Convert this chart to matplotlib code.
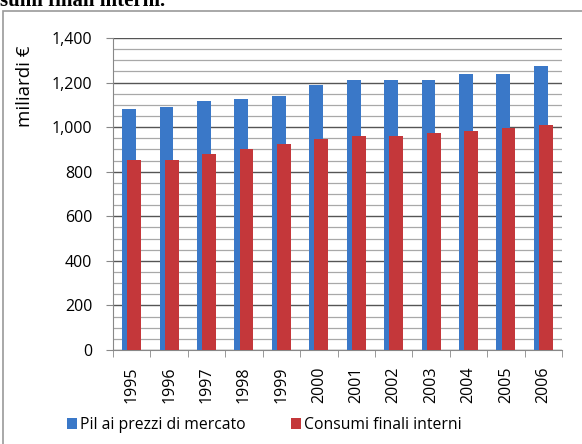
import matplotlib.pyplot as plt
import matplotlib.patches as mpatches
import numpy as np

years = ['1995', '1996', '1997', '1998', '1999', '2000',
         '2001', '2002', '2003', '2004', '2005', '2006']
pil = [1081, 1090, 1117, 1127, 1139, 1189, 1211, 1211, 1211, 1238, 1238, 1274]
consumi = [852, 852, 878, 902, 924, 949, 960, 960, 972, 984, 997, 1009]

plt.rcParams['font.family'] = ['Open Sans', 'DejaVu Sans']

fig = plt.figure(figsize=(5.82, 4.44), dpi=100)
ax = fig.add_axes([113 / 582, (444 - 350) / 444, 449 / 582, 312 / 444])

x = np.arange(len(years))
w = 0.37
b1 = ax.bar(x - 0.07, pil, width=w, color='#3A78C8', zorder=3, label='Pil ai prezzi di mercato')
b2 = ax.bar(x + 0.07, consumi, width=w, color='#C4373A', zorder=4, label='Consumi finali interni')

ax.set_xlim(-0.5, len(years) - 0.5)
ax.set_ylim(0, 1400)
ax.set_yticks(range(0, 1401, 200))
ax.set_yticklabels([f'{v:,}' for v in range(0, 1401, 200)], fontsize=11.5)
ax.set_yticks(range(0, 1401, 50), minor=True)
ax.grid(axis='y', which='major', color='#555555', linewidth=1.0, zorder=0)
ax.grid(axis='y', which='minor', color='#a8a8a8', linewidth=0.9, zorder=0)
ax.tick_params(axis='y', which='major', length=5, pad=10, color='#888888')
ax.tick_params(axis='y', which='minor', length=0)

# year labels at centres, tick marks at boundaries
ax.set_xticks(x)
ax.set_xticklabels(years, rotation=90, fontsize=11.5)
ax.tick_params(axis='x', which='major', length=0, pad=12)
ax.set_xticks(np.arange(-0.5, len(years)), minor=True)
ax.tick_params(axis='x', which='minor', length=5, color='#888888')

for s in ['top', 'right']:
    ax.spines[s].set_visible(False)
for s in ['left', 'bottom']:
    ax.spines[s].set_color('#888888')

ax.set_ylabel('miliardi €', fontsize=13.5)
ax.yaxis.set_label_coords(-0.175, 0.845)

fig.legend(handles=[b1, b2], loc='center', bbox_to_anchor=(0.454, 0.043), ncol=2,
           frameon=False, fontsize=11.3, handlelength=0.65, handleheight=0.65,
           handletextpad=0.15, columnspacing=2.9)

# outer frame of the scanned figure
fig.patches.append(mpatches.Rectangle((3 / 582, -0.1), 1.2, 1 - 11 / 444 + 0.1,
                                      transform=fig.transFigure, fill=False,
                                      edgecolor='#999999', linewidth=1.2))

# top of the page text, cut by the crop as in the scan
fig.text(0.0, 0.986, 'sumi finali interni.', fontsize=15, fontweight='bold',
         family='Liberation Serif', va='baseline', ha='left')

fig.savefig('out.png', dpi=100)
